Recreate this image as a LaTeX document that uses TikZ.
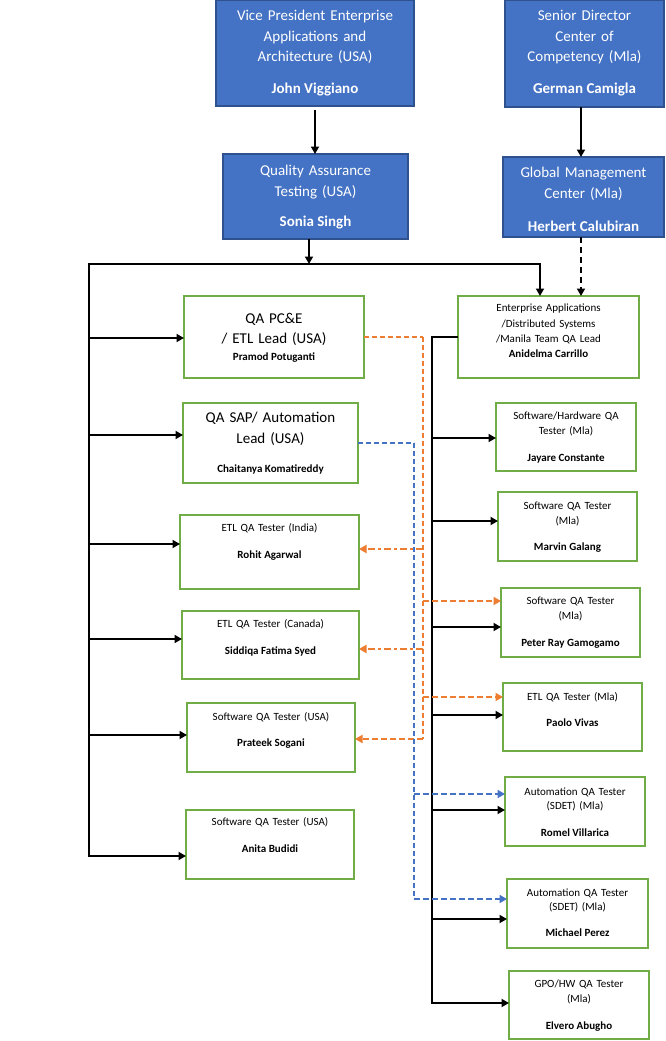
\documentclass[tikz,border=0pt]{standalone}
\usepackage{fontspec}
\setmainfont{Carlito}
\usetikzlibrary{arrows.meta}
\definecolor{bfill}{HTML}{4472C4}
\definecolor{bborder}{HTML}{2F528F}
\definecolor{ggreen}{HTML}{70AD47}
\definecolor{oorange}{HTML}{ED7D31}
\definecolor{bdashc}{HTML}{4472C4}
\begin{document}
\begin{tikzpicture}[x=1pt,y=-1pt,
  >={Triangle[length=7.5pt,width=8pt]},
  bbox/.style={draw=bborder, fill=bfill, line width=1.5pt, inner sep=0pt, outer sep=0pt},
  gbox/.style={draw=ggreen, fill=white, line width=2pt, inner sep=0pt, outer sep=0pt},
  bigt/.style={anchor=base, align=center, inner sep=0pt, text width=#1, font=\fontsize{15}{20.5}\selectfont},
  smt/.style={anchor=base, align=center, inner sep=0pt, text width=#1, font=\fontsize{11}{15}\selectfont},
  bign/.style={anchor=base, inner sep=0pt, font=\fontsize{15}{18}\selectfont\bfseries},
  smn/.style={anchor=base, inner sep=0pt, font=\fontsize{11}{13}\selectfont\bfseries},
  conn/.style={line width=1.8pt, draw=black},
  arr/.style={conn, ->},
  dasharr/.style={conn, ->, dash pattern=on 6pt off 4pt},
  overt/.style={draw=oorange, line width=1.3pt, dash pattern=on 5pt off 3pt},
  odash/.style={draw=oorange, line width=2.3pt, dash pattern=on 6pt off 3pt},
  odashdot/.style={draw=oorange, line width=2.3pt, dash pattern=on 7pt off 3pt on 3pt off 3pt},
  bvert/.style={draw=bdashc, line width=1.3pt, dash pattern=on 5pt off 3pt},
  bdash/.style={draw=bdashc, line width=2.2pt, dash pattern=on 6pt off 3pt}
]
\useasboundingbox (0,0) rectangle (665,1041);
\fill[white] (0,0) rectangle (665,1041);

% ---- top boxes
\node[bbox, minimum width=198pt, minimum height=106pt] (vp) at (315,53) {};
\node[bigt=190pt, text=white] (vpt) at (315,20.6) {Vice President Enterprise\\Applications and\\Architecture (USA)};
\node[bign, text=white] (vpn) at (315,93.6) {John Viggiano};

\node[bbox, minimum width=159pt, minimum height=107pt] (sd) at (584.5,53.5) {};
\node[bigt=150pt, text=white] (sdt) at (584.5,20.6) {Senior Director\\Center of\\Competency (Mla)};
\node[bign, text=white] (sdn) at (584.5,93.6) {German Camigla};

\node[bbox, minimum width=185pt, minimum height=85pt] (qa) at (315.5,196.5) {};
\node[bigt=177pt, text=white] (qat) at (315.5,175.6) {Quality Assurance\\Testing (USA)};
\node[bign, text=white] (qan) at (315.5,226.6) {Sonia Singh};

\node[bbox, minimum width=161pt, minimum height=80pt] (gmc) at (583.5,197) {};
\node[bigt=155pt, text=white] (gmct) at (583.5,177.6) {Global Management\\Center (Mla)};
\node[bign, text=white] (gmcn) at (583.5,231.6) {Herbert Calubiran};

% ---- EA lead
\node[gbox, minimum width=181pt, minimum height=82pt] (ea) at (548.5,337) {};
\node[smt=175pt, font=\fontsize{11}{15.5}\selectfont] (eat) at (548.5,311.5) {Enterprise Applications\\/Distributed Systems\\/Manila Team QA Lead};
\node[smn] (ean) at (548.5,357.5) {Anidelma Carrillo};

% ---- left column
\node[gbox, minimum width=180pt, minimum height=82pt] (pce) at (274,337) {};
\node[bigt=170pt, font=\fontsize{15}{20}\selectfont] (pcet) at (274,323.6) {QA PC\&E\\/ ETL Lead (USA)};
\node[smn] (pcen) at (274,360.3) {Pramod Potuganti};

\node[gbox, minimum width=175pt, minimum height=80pt] (sap) at (270.5,443) {};
\node[bigt=168pt, font=\fontsize{15}{21}\selectfont] (sapt) at (270.5,422.6) {QA SAP/ Automation\\Lead (USA)};
\node[smn] (sapn) at (270.5,472.3) {Chaitanya Komatireddy};

\node[gbox, minimum width=179pt, minimum height=74pt] (rohit) at (269.5,552) {};
\node[smt=170pt] (rohitt) at (269.5,531.3) {ETL QA Tester (India)};
\node[smn] (rohitn) at (269.5,558.3) {Rohit Agarwal};

\node[gbox, minimum width=177pt, minimum height=68pt] (sidd) at (270.5,645) {};
\node[smt=170pt] (siddt) at (270.5,627.3) {ETL QA Tester (Canada)};
\node[smn] (siddn) at (270.5,654.3) {Siddiqa Fatima Syed};

\node[gbox, minimum width=168pt, minimum height=69pt] (prat) at (271,737.5) {};
\node[smt=160pt] (pratt) at (271,720.3) {Software QA Tester (USA)};
\node[smn] (pratn) at (271,746.3) {Prateek Sogani};

\node[gbox, minimum width=168pt, minimum height=69pt] (anita) at (270,844.5) {};
\node[smt=160pt] (anitat) at (270,825.3) {Software QA Tester (USA)};
\node[smn] (anitan) at (270,852.3) {Anita Budidi};

% ---- right column
\node[gbox, minimum width=140pt, minimum height=68pt] (jay) at (566,437) {};
\node[smt=134pt] (jayt) at (566,419.3) {Software/Hardware QA\\Tester (Mla)};
\node[smn] (jayn) at (566,461.3) {Jayare Constante};

\node[gbox, minimum width=139pt, minimum height=69pt] (marv) at (567.5,526.5) {};
\node[smt=133pt] (marvt) at (567.5,509.3) {Software QA Tester\\(Mla)};
\node[smn] (marvn) at (567.5,550.3) {Marvin Galang};

\node[gbox, minimum width=139pt, minimum height=69pt] (pete) at (570.5,622.5) {};
\node[smt=133pt] (petet) at (570.5,604.3) {Software QA Tester\\(Mla)};
\node[smn] (peten) at (570.5,646.3) {Peter Ray Gamogamo};

\node[gbox, minimum width=139pt, minimum height=68pt] (paolo) at (572.5,717) {};
\node[smt=133pt] (paolot) at (572.5,700.3) {ETL QA Tester (Mla)};
\node[smn] (paolon) at (572.5,726.3) {Paolo Vivas};

\node[gbox, minimum width=140pt, minimum height=69pt] (romel) at (575,811.5) {};
\node[smt=134pt, font=\fontsize{11}{14}\selectfont] (romelt) at (575,795.3) {Automation QA Tester\\(SDET) (Mla)};
\node[smn] (romeln) at (575,836.3) {Romel Villarica};

\node[gbox, minimum width=141pt, minimum height=69pt] (mich) at (577.5,913.5) {};
\node[smt=135pt, font=\fontsize{11}{14.5}\selectfont] (micht) at (577.5,896.3) {Automation QA Tester\\(SDET) (Mla)};
\node[smn] (michn) at (577.5,936.3) {Michael Perez};

\node[gbox, minimum width=140pt, minimum height=68pt] (elv) at (579,1005) {};
\node[smt=134pt] (elvt) at (579,987.3) {GPO/HW QA Tester\\(Mla)};
\node[smn] (elvn) at (579,1029.3) {Elvero Abugho};

% ---- top connectors
\draw[arr] ([yshift=-4pt]vp.south) -- (vp.south |- qa.north);
\coordinate (sdx) at (581,0);
\draw[arr] (sdx |- sd.south) -- (sdx |- gmc.north);
\draw[dasharr] (sdx |- gmc.south) -- (sdx |- ea.north);

\coordinate (qx) at (309,0);
\coordinate (busL) at (89,264);
\coordinate (busR) at (540,264);
\coordinate (tanita) at ([yshift=-11.5pt]anita.west);
\draw[conn, line width=2.2pt, <->] (tanita) -| (busL) -| (busR |- ea.north);
\draw[arr] (qx |- qa.south) -- (qx |- busL);

% ---- left arrows
\coordinate (tpce) at ([yshift=-1pt]pce.west);
\coordinate (tsap) at ([yshift=8pt]sap.west);
\coordinate (trohit) at ([yshift=8pt]rohit.west);
\coordinate (tsidd) at ([yshift=6pt]sidd.west);
\coordinate (tprat) at ([yshift=2.5pt]prat.west);
\draw[arr] (busL |- tpce) -- (tpce);
\draw[arr] (busL |- tsap) -- (tsap);
\draw[arr] (busL |- trohit) -- (trohit);
\draw[arr] (busL |- tsidd) -- (tsidd);
\draw[arr] (busL |- tprat) -- (tprat);

% ---- right arrows
\coordinate (rx) at (432,0);
\coordinate (telv) at ([yshift=2pt]elv.west);
\draw[conn, line width=2.8pt, ->] (ea.west) -- (rx |- ea.west) |- (telv);
\coordinate (tjay) at ([yshift=-1pt]jay.west);
\coordinate (tmarv) at ([yshift=5.5pt]marv.west);
\coordinate (tpete) at ([yshift=-4.5pt]pete.west);
\coordinate (tpaolo) at ([yshift=2pt]paolo.west);
\coordinate (tromel) at ([yshift=1.5pt]romel.west);
\coordinate (tmich) at ([yshift=-5.5pt]mich.west);
\draw[arr] (rx |- tjay) -- (tjay);
\draw[arr] (rx |- tmarv) -- (tmarv);
\draw[arr] (rx |- tpete) -- (tpete);
\draw[arr] (rx |- tpaolo) -- (tpaolo);
\draw[arr] (rx |- tromel) -- (tromel);
\draw[arr] (rx |- tmich) -- (tmich);

% ---- orange dotted-line reporting
\coordinate (ox) at (423,0);
\coordinate (oprat) at ([yshift=-1.5pt]prat.east);
\draw[overt, line width=1.6pt] (pce.east) -- (ox |- pce.east);
\draw[overt] (ox |- pce.east) -- (ox |- oprat);
\draw[odash, ->] (ox |- oprat) -- (oprat);
\coordinate (orohit) at ([yshift=3pt]rohit.east);
\draw[odashdot, ->] (ox |- orohit) -- (orohit);
\coordinate (osidd) at ([yshift=-4pt]sidd.east);
\draw[odashdot, ->] (ox |- osidd) -- (osidd);
\coordinate (opete) at ([yshift=21.5pt]pete.west);
\draw[odash, ->] (ox |- opete) -- (opete);
\coordinate (opaolo) at ([yshift=20pt]paolo.west);
\draw[odash, ->] (ox |- opaolo) -- (opaolo);

% ---- blue dotted-line reporting
\coordinate (bx) at (414,0);
\coordinate (bmich) at ([yshift=14.5pt]mich.west);
\draw[bvert, line width=1.6pt] (sap.east) -- (bx |- sap.east);
\draw[bvert] (bx |- sap.east) -- (bx |- bmich);
\draw[bdash, ->] (bx |- bmich) -- (bmich);
\coordinate (bromel) at ([yshift=17.5pt]romel.west);
\draw[bdash, ->] (bx |- bromel) -- (bromel);
\end{tikzpicture}
\end{document}
